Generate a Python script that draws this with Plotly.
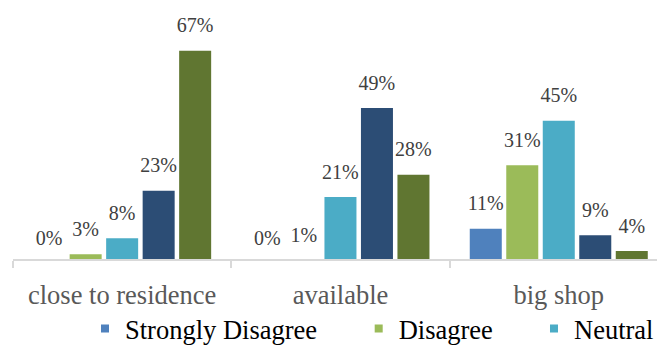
import plotly.graph_objects as go

categories = ["close to residence", "available", "big shop"]
series_names = ["Strongly Disagree", "Disagree", "Neutral", "Agree", "Strongly Agree"]
strongly_disagree = [0, 0, 11]
disagree = [3, 1, 31]
neutral = [8, 21, 45]
agree = [23, 49, 9]
strongly_agree = [67, 28, 4]
series_values = [strongly_disagree, disagree, neutral, agree, strongly_agree]
colors = ["#4F81BD", "#9BBB59", "#4BACC6", "#2C4D75", "#607631"]
# legend entries visible in the (cropped) picture, with their own legend box
legend_ids = ["legend", "legend2", "legend3", None, None]
legend_x = [0.1118, 0.5368, 0.809]

FONT = "Liberation Serif, Times New Roman, serif"
Y_MIN, Y_MAX = 1.5, 79.8  # value axis of the bars starts slightly above 0

fig = go.Figure()
for name, vals, col in zip(series_names, series_values, colors):
    fig.add_trace(go.Bar(
        name=name, x=categories, y=vals,
        marker=dict(color=col, line=dict(width=0)),
        showlegend=False, offsetgroup=name,
    ))
# data labels on an overlaid axis of the same scale that starts at 0,
# so labels of values under the bar axis minimum stay visible
for name, vals in zip(series_names, series_values):
    fig.add_trace(go.Scatter(
        x=categories, y=vals, mode="markers+text", yaxis="y2",
        marker=dict(size=12.2, opacity=0),
        text=[f"{v}%" for v in vals], textposition="top center",
        textfont=dict(family=FONT, size=20, color="#404040"),
        offsetgroup=name, showlegend=False, cliponaxis=False,
        hoverinfo="skip",
    ))
# legend symbols (small squares like the original)
for name, col, lid in zip(series_names, colors, legend_ids):
    if lid is None:
        continue
    fig.add_trace(go.Scatter(
        x=[None], y=[None], mode="markers", name=name,
        marker=dict(symbol="square", size=8, color=col),
        offsetgroup=name, legend=lid, showlegend=True,
    ))

legend_common = dict(
    orientation="h", xanchor="left", y=-0.28, yanchor="middle",
    font=dict(family=FONT, size=26.5, color="#000000"),
    bgcolor="rgba(0,0,0,0)",
)

fig.update_layout(
    width=657, height=345,
    margin=dict(l=13, r=0, t=10, b=86, autoexpand=False),
    paper_bgcolor="white", plot_bgcolor="white",
    barmode="group", bargap=0.164, bargroupgap=0.123,
    scattermode="group", scattergap=0.164,
    font=dict(family=FONT, color="#595959"),
    legend=dict(x=legend_x[0], **legend_common),
    legend2=dict(x=legend_x[1], **legend_common),
    legend3=dict(x=legend_x[2], **legend_common),
    xaxis=dict(
        type="category", range=[-0.5, 2.45],
        showline=True, linecolor="#d9d9d9", linewidth=2,
        ticks="outside", tickson="boundaries", ticklen=7, tickcolor="#d9d9d9", tickwidth=2,
        tickfont=dict(family=FONT, size=26.5, color="#595959"),
        ticklabelstandoff=11, showgrid=False, zeroline=False,
    ),
    yaxis=dict(range=[Y_MIN, Y_MAX], visible=False, showgrid=False, zeroline=False),
    yaxis2=dict(range=[0, Y_MAX - Y_MIN], overlaying="y", visible=False,
                showgrid=False, zeroline=False),
)

fig.write_html("out.html")
